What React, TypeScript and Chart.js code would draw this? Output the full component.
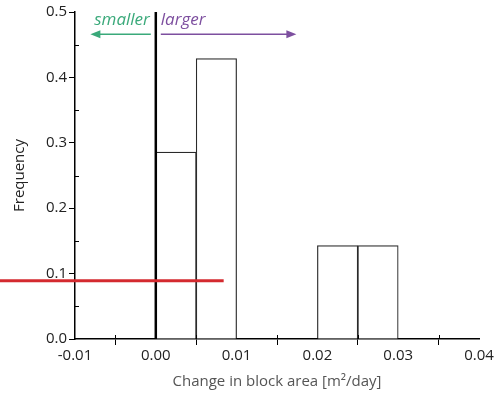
import React, { useEffect, useRef } from "react";
import { Chart, registerables } from "chart.js";

Chart.register(...registerables);

// Histogram bins (left edges, width) and frequencies
const binStarts = [0.0, 0.005, 0.02, 0.025];
const binWidth = 0.005;
const frequencies = [0.2857, 0.4286, 0.1429, 0.1429];

const xTickValues = [-0.01, 0.0, 0.01, 0.02, 0.03, 0.04];
const yTickValues = [0.0, 0.1, 0.2, 0.3, 0.4, 0.5];

const dividerX = 0;
const smallerArrowEnd = -0.0081;
const largerArrowEnd = 0.0174;
const arrowY = 0.466;
const labelY = 0.487;
const redLineY = 0.089;
const redLineEndX = 0.0084;

const FONT = "'Open Sans', 'DejaVu Sans', sans-serif";

const overlay = {
  id: "overlay",
  afterDraw(chart: any) {
    const ctx = chart.ctx;
    const xs = chart.scales.x;
    const ys = chart.scales.y;
    const area = chart.chartArea;
    ctx.save();
    // minor ticks (inward)
    ctx.strokeStyle = "#000";
    ctx.lineWidth = 1;
    for (let i = 0; i < xTickValues.length - 1; i++) {
      const v = (xTickValues[i] + xTickValues[i + 1]) / 2;
      const px = Math.round(xs.getPixelForValue(v)) + 0.5;
      ctx.beginPath();
      ctx.moveTo(px, area.bottom);
      ctx.lineTo(px, area.bottom - 4);
      ctx.stroke();
    }
    for (let i = 0; i < yTickValues.length - 1; i++) {
      const v = (yTickValues[i] + yTickValues[i + 1]) / 2;
      const py = Math.round(ys.getPixelForValue(v)) + 0.5;
      ctx.beginPath();
      ctx.moveTo(area.left, py);
      ctx.lineTo(area.left + 4, py);
      ctx.stroke();
    }
    // divider line
    const dx = xs.getPixelForValue(dividerX);
    ctx.strokeStyle = "#000";
    ctx.lineWidth = 2.5;
    ctx.beginPath();
    ctx.moveTo(dx, area.top);
    ctx.lineTo(dx, area.bottom);
    ctx.stroke();

    // arrows
    const ay = ys.getPixelForValue(arrowY);
    const drawArrow = (x0: number, x1: number, color: string) => {
      const dir = Math.sign(x1 - x0);
      ctx.strokeStyle = color;
      ctx.fillStyle = color;
      ctx.lineWidth = 1.5;
      ctx.beginPath();
      ctx.moveTo(x0, ay);
      ctx.lineTo(x1 - dir * 8, ay);
      ctx.stroke();
      ctx.beginPath();
      ctx.moveTo(x1, ay);
      ctx.lineTo(x1 - dir * 10, ay - 4);
      ctx.lineTo(x1 - dir * 10, ay + 4);
      ctx.closePath();
      ctx.fill();
    };
    const green = "#3aa97a";
    const purple = "#7d4f9f";
    drawArrow(dx - 5, xs.getPixelForValue(smallerArrowEnd), green);
    drawArrow(dx + 5, xs.getPixelForValue(largerArrowEnd), purple);

    const ly = ys.getPixelForValue(labelY);
    ctx.font = `italic 17px ${FONT}`;
    ctx.textBaseline = "middle";
    ctx.fillStyle = green;
    ctx.textAlign = "right";
    ctx.fillText("smaller", dx - 6, ly);
    ctx.fillStyle = purple;
    ctx.textAlign = "left";
    ctx.fillText("larger", dx + 5, ly);

    // red line
    const ry = ys.getPixelForValue(redLineY);
    ctx.strokeStyle = "#d42a2f";
    ctx.lineWidth = 3;
    ctx.beginPath();
    ctx.moveTo(0, ry);
    ctx.lineTo(xs.getPixelForValue(redLineEndX), ry);
    ctx.stroke();
    ctx.restore();
  },
};

export default function App() {
  const ref = useRef<HTMLCanvasElement>(null);
  useEffect(() => {
    if (!ref.current) return;
    const chart = new Chart(ref.current, {
      type: "bar",
      data: {
        datasets: [
          {
            data: binStarts.map((s, i) => ({ x: s + binWidth / 2, y: frequencies[i] })),
            backgroundColor: "#ffffff",
            borderColor: "#2a2a2a",
            borderWidth: 1.2,
            borderSkipped: "start",
            barPercentage: 1,
            categoryPercentage: 1,
          },
        ],
      },
      options: {
        responsive: false,
        animation: false,
        layout: { padding: { top: 12, right: 22, left: 0, bottom: 0 } },
        plugins: { legend: { display: false }, tooltip: { enabled: false } },
        scales: {
          x: {
            type: "linear",
            min: -0.01,
            max: 0.04,
            offset: false,
            afterFit: (s: any) => {
              s.height = 56;
            },
            afterBuildTicks: (s: any) => {
              s.ticks = xTickValues.map((v) => ({ value: v }));
            },
            ticks: {
              callback: (v: any) => Number(v).toFixed(2),
              color: "#222",
              font: { family: FONT, size: 15 },
              padding: 2,
              maxRotation: 0,
            },
            grid: { drawOnChartArea: false, drawTicks: true, tickLength: 6, color: "#000" },
            border: { color: "#000", width: 1.5 },
            title: {
              display: true,
              text: "Change in block area [m²/day]",
              color: "#555",
              font: { family: FONT, size: 15 },
              padding: { top: 2 },
            },
          },
          y: {
            type: "linear",
            min: 0,
            max: 0.5,
            afterFit: (s: any) => {
              s.width = 75;
            },
            afterBuildTicks: (s: any) => {
              s.ticks = yTickValues.map((v) => ({ value: v }));
            },
            ticks: {
              callback: (v: any) => Number(v).toFixed(1),
              color: "#222",
              font: { family: FONT, size: 15 },
              padding: 2,
            },
            grid: { drawOnChartArea: false, drawTicks: true, tickLength: 6, color: "#000" },
            border: { color: "#000", width: 1.5 },
            title: {
              display: true,
              text: "Frequency",
              color: "#222",
              font: { family: FONT, size: 15 },
              padding: { top: 11, bottom: 0 },
            },
          },
        },
      },
      plugins: [overlay],
    } as any);
    return () => chart.destroy();
  }, []);
  return (
    <div style={{ position: "absolute", left: 0, top: 0, width: 501, height: 395, background: "#fff" }}>
      <canvas ref={ref} width={501} height={395} />
    </div>
  );
}
